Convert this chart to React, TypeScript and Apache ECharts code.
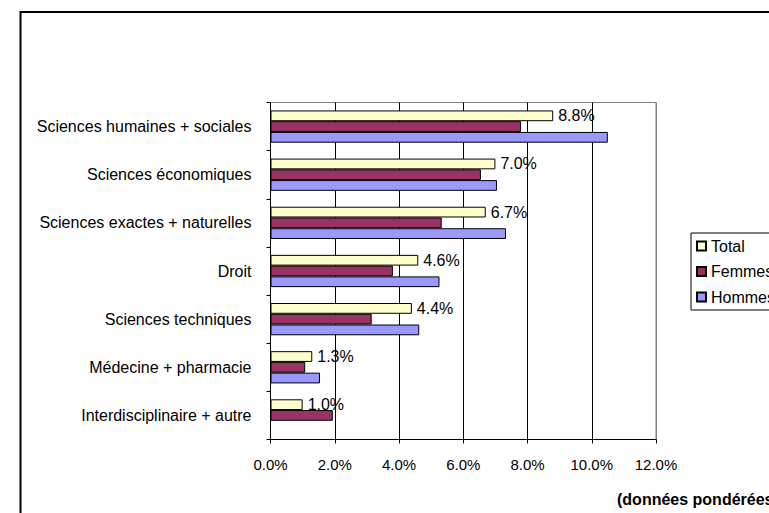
import React, { useEffect, useRef } from "react";
import * as echarts from "echarts";

const categories = [
  "Sciences humaines + sociales",
  "Sciences économiques",
  "Sciences exactes + naturelles",
  "Droit",
  "Sciences techniques",
  "Médecine + pharmacie",
  "Interdisciplinaire + autre",
];
const seriesNames = ["Total", "Femmes", "Hommes"];
const totalValues = [8.8, 7.0, 6.7, 4.6, 4.4, 1.3, 1.0];
const femmesValues = [7.8, 6.55, 5.33, 3.81, 3.15, 1.08, 1.94];
const hommesValues: (number | null)[] = [10.5, 7.05, 7.33, 5.26, 4.63, 1.54, null];
const xTicks = [0, 2, 4, 6, 8, 10, 12];
const footnote = "(données pondérées)";

const FONT = "'Liberation Sans', Arial, sans-serif";

export default function App() {
  const ref = useRef<HTMLDivElement>(null);
  useEffect(() => {
    if (!ref.current) return;
    const chart = echarts.init(ref.current, null, { renderer: "svg" });
    const colors = ["#FFFFCC", "#993366", "#9999FF"];
    const data = [totalValues, femmesValues, hommesValues];
    chart.setOption({
      animation: false,
      backgroundColor: "#ffffff",
      textStyle: { fontFamily: FONT },
      grid: {
        left: 270.5,
        right: 113,
        top: 102.5,
        bottom: 73.5,
        show: true,
        borderColor: "#808080",
        borderWidth: 1,
        containLabel: false,
      },
      legend: {
        orient: "vertical",
        left: 691,
        top: 233,
        padding: [5, 6, 5, 5],
        itemGap: 9.5,
        itemWidth: 9,
        itemHeight: 9,
        borderColor: "#000",
        borderWidth: 1,
        icon: "rect",
        data: seriesNames,
        textStyle: { fontSize: 16, color: "#000", fontFamily: FONT },
      },
      xAxis: {
        type: "value",
        min: xTicks[0],
        max: xTicks[xTicks.length - 1],
        interval: 2,
        axisLine: { show: true, lineStyle: { color: "#000", width: 1 } },
        axisTick: { show: true, length: 4, lineStyle: { color: "#000" } },
        axisLabel: {
          fontSize: 15,
          color: "#000",
          margin: 17,
          fontFamily: FONT,
          formatter: (v: number) => v.toFixed(1) + "%",
        },
        splitLine: {
          show: true,
          lineStyle: {
            color: ["#808080", "#000", "#000", "#000", "#000", "#000", "#808080"],
            width: 1,
          },
        },
      },
      yAxis: {
        type: "category",
        inverse: true,
        data: categories,
        axisLine: { show: true, lineStyle: { color: "#000", width: 1 } },
        axisTick: { show: true, length: 4, lineStyle: { color: "#000" } },
        axisLabel: { fontSize: 16, color: "#000", margin: 19, fontFamily: FONT },
      },
      series: seriesNames.map((name, i) => ({
        name,
        type: "bar",
        data: data[i],
        barGap: "0%",
        barCategoryGap: "33%",
        itemStyle: { color: colors[i], borderColor: "#000", borderWidth: 1 },
        label:
          i === 0
            ? {
                show: true,
                position: "right",
                distance: 5,
                fontSize: 16,
                color: "#000",
                fontFamily: FONT,
                formatter: (p: any) => Number(p.value).toFixed(1) + "%",
              }
            : { show: false },
      })),
      graphic: [
        {
          type: "rect",
          left: 18,
          top: 9.5,
          shape: { x: 0, y: 0, width: 1000, height: 1000 },
          style: { fill: "none", stroke: "#000", lineWidth: 2 },
          silent: true,
        },
        {
          type: "text",
          left: 617,
          top: 491,
          style: {
            text: footnote,
            font: "bold 16px " + FONT,
            fill: "#000",
          },
        },
      ],
    });
    return () => chart.dispose();
  }, []);
  return (
    <div
      ref={ref}
      style={{ position: "fixed", left: 0, top: 0, width: 769, height: 513 }}
    />
  );
}
